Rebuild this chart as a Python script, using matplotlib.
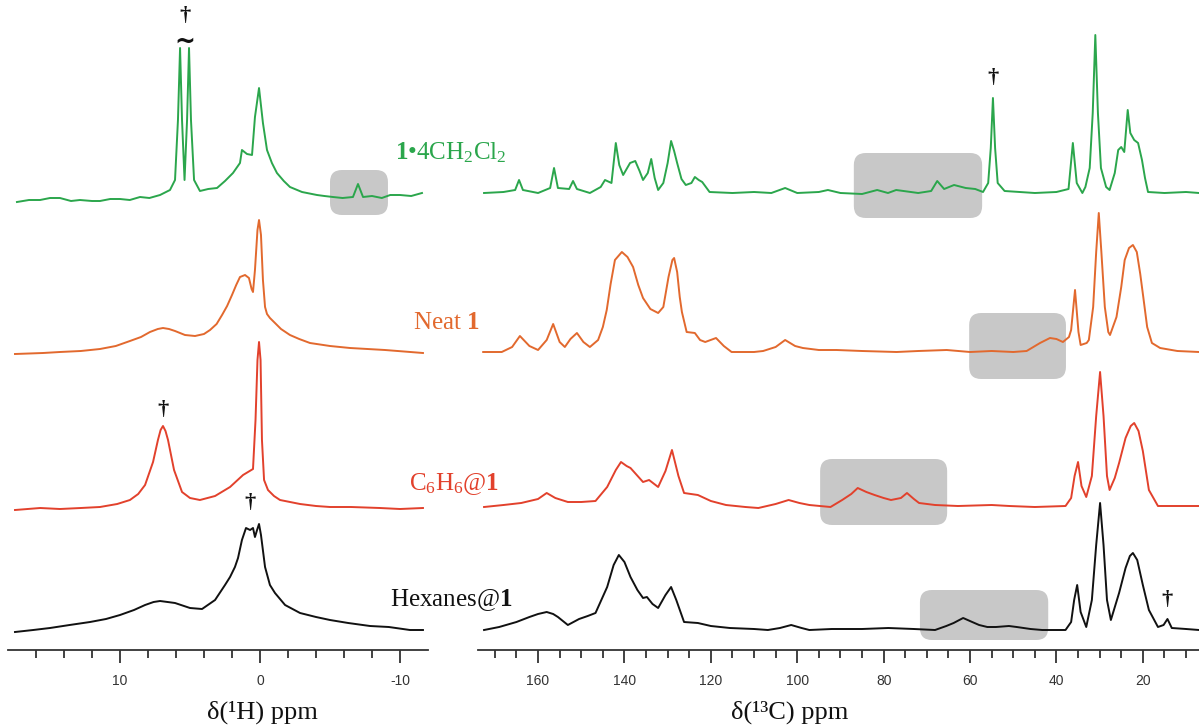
import matplotlib
matplotlib.use("Agg")
from matplotlib import pyplot as plt
from matplotlib.patches import FancyBboxPatch
from matplotlib.transforms import IdentityTransform
import numpy as np

plt.rcParams['mathtext.fontset'] = 'custom'
plt.rcParams['mathtext.rm'] = 'Liberation Serif'
plt.rcParams['mathtext.bf'] = 'Liberation Serif:bold'
plt.rcParams['mathtext.it'] = 'Liberation Serif:italic'
plt.rcParams['axes.unicode_minus'] = False

# ---- 1H spectra (ppm, intensity above baseline) ----
h_green_ppm = [17.36, 16.5, 15.71, 15.0, 14.29, 13.5, 12.86, 12.0, 11.43, 10.7, 10.0, 9.3, 8.57,
               7.9, 7.14, 6.43, 6.07, 5.86, 5.71, 5.57, 5.39, 5.21, 5.07, 4.93, 4.71, 4.29, 3.7,
               3.07, 2.5, 1.93, 1.43, 1.29, 0.93, 0.57, 0.36, 0.07, -0.21, -0.5, -0.85, -1.21,
               -1.7, -2.14, -3.0, -4.07, -4.6, -5.21, -5.9, -6.64, -7.0, -7.36, -8.0, -8.7, -9.3,
               -10.0, -10.8, -11.57]
h_green_int = [-2, 0, 0, 2, 2, -1, 0, -1, -1, 1, 1, 0, 3,
               2, 5, 10, 20, 80, 152, 80, 20, 80, 152, 80, 20, 9, 11,
               12, 19, 27, 37, 50, 46, 45, 83, 112, 77, 50, 37, 27,
               19, 13, 8, 5, 4, 3, 2, 3, 16, 3, 4, 2, 5,
               5, 4, 7]

h_orange_ppm = [17.5, 15.5, 14.29, 12.8, 11.43, 10.3, 9.29, 8.5, 7.86, 7.3, 6.93, 6.5, 6.07, 5.36,
                4.64, 4.0, 3.57, 3.1, 2.71, 2.35, 2.0, 1.7, 1.43, 1.07, 0.79, 0.6, 0.5, 0.36, 0.18,
                0.07, -0.07, -0.21, -0.36, -0.5, -0.71, -1.07, -1.5, -2.14, -2.8, -3.57, -5.0,
                -6.43, -8.93, -11.64]
h_orange_int = [0, 1, 2, 3, 5, 8, 13, 17, 22, 25, 26, 25, 23, 19,
                18, 20, 24, 30, 39, 48, 59, 69, 77, 79, 76, 65, 62, 84, 124,
                134, 119, 74, 47, 40, 36, 31, 25, 19, 15, 11, 8,
                6, 4, 1]

h_red_ppm = [17.5, 15.7, 14.29, 12.8, 11.43, 10.2, 9.29, 8.7, 8.21, 7.64, 7.29, 7.1, 6.93, 6.75,
             6.57, 6.14, 5.57, 5.0, 4.29, 3.21, 2.14, 1.21, 0.5, 0.32, 0.18, 0.07, -0.04, -0.14,
             -0.29, -0.57, -1.0, -1.43, -2.86, -4.0, -5.0, -6.5, -8.57, -10.0, -11.64]
h_red_int = [-1, 1, 0, 1, 2, 5, 9, 15, 24, 47, 69, 79, 83, 78,
             69, 39, 17, 11, 9, 13, 22, 34, 40, 89, 149, 167, 149, 69,
             29, 19, 13, 9, 5, 3, 2, 2, 1, 0, 1]

h_black_ppm = [17.5, 16.2, 15.0, 13.6, 12.14, 11.0, 10.0, 9.0, 8.21, 7.6, 7.14, 6.6, 6.07, 5.0,
               4.14, 3.21, 2.5, 2.14, 1.79, 1.57, 1.29, 1.0, 0.71, 0.5, 0.36, 0.21, 0.07, -0.07,
               -0.36, -0.71, -1.07, -1.79, -2.86, -4.0, -5.0, -6.3, -7.86, -9.2, -10.71, -11.64]
h_black_int = [-1, 1, 3, 6, 9, 12, 16, 21, 26, 29, 30, 29, 28, 23,
               22, 31, 46, 54, 64, 73, 91, 103, 101, 103, 94, 101, 107, 96,
               64, 46, 38, 26, 18, 14, 11, 8, 5, 4, 1, 1]

# ---- 13C spectra ----
c_green_ppm = [172.5, 168, 165.3, 164.4, 163.5, 160, 157.2, 156.3, 155.4, 152.8, 151.9, 151, 148,
               145.5, 144.5, 143, 142.0, 141.2, 140.3, 138.7, 137.5, 136.5, 135.7, 134.6, 133.8,
               133, 132.2, 131, 130, 129.2, 128.5, 127.8, 126.8, 125.8, 124.5, 123.7, 122.8, 122,
               120.3, 115, 110, 106, 102.8, 100, 95, 92.9, 90, 85, 81.5, 79, 77.1, 72, 69, 67.6,
               66, 63.7, 61, 58.8, 57, 55.8, 55.2, 54.7, 54.2, 53.6, 52, 45, 40, 37.2, 36.2,
               35.3, 34, 33.3, 32.3, 31.6, 31.0, 30.4, 29.7, 28.5, 27.7, 26.5, 25.7, 25.0, 24.3,
               23.5, 22.9, 22.0, 21.1, 20.2, 19.5, 18.8, 15, 10, 7]
c_green_int = [0, 1, 3, 13, 3, 0, 5, 25, 5, 4, 12, 4, 0,
               6, 13, 10, 50, 28, 18, 30, 32, 22, 13, 20, 34,
               15, 3, 10, 30, 52, 42, 30, 14, 8, 10, 16, 13, 11,
               1, 0, 1, 0, 5, 0, 1, 3, 0, -1, 3, 0, 3, 0, 2, 12,
               4, 8, 5, 4, 1, 10, 45, 95, 45, 10, 2, 0, 1, 4, 50,
               10, 0, 6, 25, 80, 158, 80, 25, 6, 3, 20, 43, 46, 41,
               83, 60, 53, 50, 33, 15, 1, 0, 1, 0]

c_orange_ppm = [172.7, 168.4, 166, 164.2, 162, 160, 158, 156.5, 155, 153.8, 152.5, 151, 149.5, 148,
                146.1, 145, 144.1, 143.2, 142.2, 140.6, 139.3, 138, 136.8, 135.7, 134, 132.2, 131,
                129.8, 128.9, 128.5, 127.8, 127.2, 126.7, 125.6, 123.7, 122.5, 121.3, 118.8, 117,
                115.2, 110, 107.9, 105, 102.8, 100.5, 98.7, 95, 90.9, 85, 77, 72, 65.4, 60, 55,
                50, 46.9, 43.8, 41.5, 40, 38.5, 37.1, 36.6, 35.7, 34.9, 34.4, 33, 32.5, 31.5,
                30.8, 30.2, 29.6, 28.8, 28, 27.6, 26.1, 25, 24.2, 23.2, 22.3, 21.4, 20.6, 19.9,
                19, 17.9, 16, 12, 7]
c_orange_int = [0, 0, 5, 16, 6, 2, 12, 28, 10, 5, 13, 19, 10, 5,
                12, 25, 42, 68, 92, 100, 95, 85, 67, 54, 43, 39, 45,
                75, 92, 94, 80, 55, 40, 20, 19, 12, 10, 14, 6,
                0, 0, 1, 5, 12, 6, 4, 2, 2, 1, 0, 1, 2, 0, 1,
                0, 1, 9, 14, 13, 10, 15, 22, 62, 20, 7, 9, 12, 45,
                100, 139, 100, 45, 20, 17, 35, 65, 92, 104, 107, 100, 78, 55,
                25, 9, 4, 1, 0]

c_red_ppm = [172.5, 168, 163.9, 160, 158, 156, 153.1, 150, 146.7, 144, 142, 140.8, 139.5, 138.6,
             135.7, 134.3, 132.2, 130.5, 129, 127.5, 126.2, 123, 120, 116.5, 112, 109, 105, 102,
             99.5, 97.2, 92.3, 89.6, 87.5, 86, 84, 82.1, 80, 78.3, 76, 74.6, 73, 71.8, 68.1, 62.8,
             55, 50.9, 45, 37.9, 36.6, 35.8, 35, 34.2, 33.1, 31.8, 30.8, 29.9, 29.1, 28.3, 27.7,
             26.5, 25.5, 24, 22.8, 22, 21, 20, 18.6, 16.5, 12, 7]
c_red_int = [-1, 1, 3, 7, 13, 8, 4, 4, 5, 19, 36, 44, 40, 38,
             24, 26, 19, 35, 56, 30, 13, 11, 5, 1, -1, -2, 2, 6,
             3, 1, -1, 6, 12, 18, 14, 11, 8, 6, 8, 13, 7, 3, 1, 0,
             1, 0, -1, 0, 8, 30, 44, 20, 9, 30, 90, 134, 90, 30, 16,
             28, 43, 68, 80, 83, 75, 55, 16, 0, 0, 0]

c_black_ppm = [172.5, 169, 165, 162, 160, 158, 156.5, 155.4, 153.1, 150.5, 148.5, 146.7, 144, 142.5,
               141.3, 140, 138.6, 137, 135.7, 134.8, 133.5, 132.2, 130.5, 129.2, 128, 126.2, 123,
               120, 115.6, 110, 106.8, 104, 101.4, 99, 97.2, 92, 85, 78.9, 73, 68.1, 65.5, 63.8,
               61.6, 59.5, 57.9, 56, 54, 51, 49.2, 46, 43.3, 37.9, 36.6, 35.9, 35.2, 34.4, 33.1,
               31.8, 30.8, 29.9, 29.1, 28.3, 27.4, 25.5, 24, 23, 22.3, 21.3, 20, 18.6, 16.5, 15.2,
               14.3, 13.3, 10, 7]
c_black_int = [0, 3, 8, 13, 16, 18, 16, 13, 5, 11, 14, 17, 43, 65,
               75, 68, 53, 40, 32, 33, 26, 22, 35, 43, 30, 8, 7,
               4, 2, 1, 0, 2, 5, 2, 0, 1, 1, 2, 1, 0, 4, 7,
               12, 8, 5, 3, 3, 4, 3, 1, 0, 0, 8, 30, 45, 18, 3,
               30, 85, 127, 85, 30, 10, 37, 62, 74, 77, 70, 45, 20, 3, 5,
               11, 2, 1, 0]

labels = [r'$\mathbf{1}$•4CH$_2$Cl$_2$', r'Neat $\mathbf{1}$', r'C$_6$H$_6$@$\mathbf{1}$',
          r'Hexanes@$\mathbf{1}$']
colors = ['#2ba64c', '#e2692e', '#e2412c', '#111111']

h_data = [(h_green_ppm, h_green_int), (h_orange_ppm, h_orange_int),
          (h_red_ppm, h_red_int), (h_black_ppm, h_black_int)]
c_data = [(c_green_ppm, c_green_int), (c_orange_ppm, c_orange_int),
          (c_red_ppm, c_red_int), (c_black_ppm, c_black_int)]
h_offsets = [450, 296, 141, 19]
c_offsets = [457, 298, 144, 20]

W, H = 1199, 725
fig = plt.figure(figsize=(W / 100, H / 100), dpi=100)
ax1 = fig.add_axes([8 / W, 75 / H, 420 / W, 650 / H])
ax2 = fig.add_axes([478 / W, 75 / H, 721 / W, 650 / H])

for ax in (ax1, ax2):
    ax.set_ylim(0, 650)
    ax.set_yticks([])
    for s in ('left', 'right', 'top'):
        ax.spines[s].set_visible(False)
    ax.spines['bottom'].set_color('#333333')
    ax.spines['bottom'].set_linewidth(1.3)
    ax.tick_params(axis='x', which='major', length=9, width=1.3, color='#333333', pad=8,
                   labelsize=10, labelcolor='#333333')
    ax.tick_params(axis='x', which='minor', length=6, width=1.3, color='#333333')
    ax.patch.set_alpha(0)

ax1.set_xlim(18, -12)
ax1.set_xticks([10, 0, -10])
ax1.set_xticks(np.arange(16, -11, -2), minor=True)
ax2.set_xlim(173.9, 7.0)
ax2.set_xticks(np.arange(160, 19, -20))
ax2.set_xticks(np.arange(170, 9, -5), minor=True)
for ax in (ax1, ax2):
    for lab in ax.get_xticklabels():
        lab.set_family('Liberation Sans')

for (ppm, inten), off, col in zip(h_data, h_offsets, colors):
    ax1.plot(ppm, np.array(inten) + off, color=col, lw=1.4, zorder=3)
for (ppm, inten), off, col in zip(c_data, c_offsets, colors):
    ax2.plot(ppm, np.array(inten) + off, color=col, lw=1.4, zorder=3)


# grey highlight boxes, given in data coords, drawn as rounded boxes in pixels
def gray_box(ax, x0, x1, y0, y1):
    p0 = ax.transData.transform((x0, y0))
    p1 = ax.transData.transform((x1, y1))
    left, right = min(p0[0], p1[0]), max(p0[0], p1[0])
    bot, top = min(p0[1], p1[1]), max(p0[1], p1[1])
    box = FancyBboxPatch((left, bot), right - left, top - bot,
                         boxstyle='round,pad=0,rounding_size=12',
                         transform=IdentityTransform(), facecolor='#c8c8c8',
                         edgecolor='none', zorder=1)
    fig.add_artist(box)


gray_box(ax1, -5.0, -9.14, 435, 480)
gray_box(ax2, 86.9, 57.2, 432, 497)
gray_box(ax2, 60.2, 37.8, 271, 337)
gray_box(ax2, 94.7, 65.3, 125, 191)
gray_box(ax2, 71.6, 41.9, 10, 60)
for ax in (ax1, ax2):
    ax.set_zorder(2)

# sample labels
label_pos = [(395, 153), (413, 323), (409, 484), (390, 600)]
for txt, (x, y), col in zip(labels, label_pos, colors):
    fig.text(x / W, 1 - y / H, txt, color=col, fontsize=18, family='Liberation Serif',
             ha='left', va='center')

# daggers
dag = dict(family='Liberation Serif', fontsize=16, fontweight='bold', ha='center', va='center',
           color='#111111')
ax1.text(5.39, 634, '†', **dag)
ax1.text(5.39, 608, '~', family='DejaVu Sans', fontsize=18, fontweight='bold', ha='center',
         va='center', color='#111111')
ax1.text(6.93, 240, '†', **dag)
ax1.text(0.71, 147, '†', **dag)
ax2.text(54.7, 572, '†', **dag)
ax2.text(14.3, 50, '†', **dag)

fig.text(262 / W, 1 - 712 / H, 'δ(¹H) ppm', family='Liberation Serif', fontsize=19,
         ha='center', va='center', color='#111111')
fig.text(790 / W, 1 - 712 / H, 'δ(¹³C) ppm', family='Liberation Serif', fontsize=19,
         ha='center', va='center', color='#111111')

fig.savefig('out.png', dpi=100)
